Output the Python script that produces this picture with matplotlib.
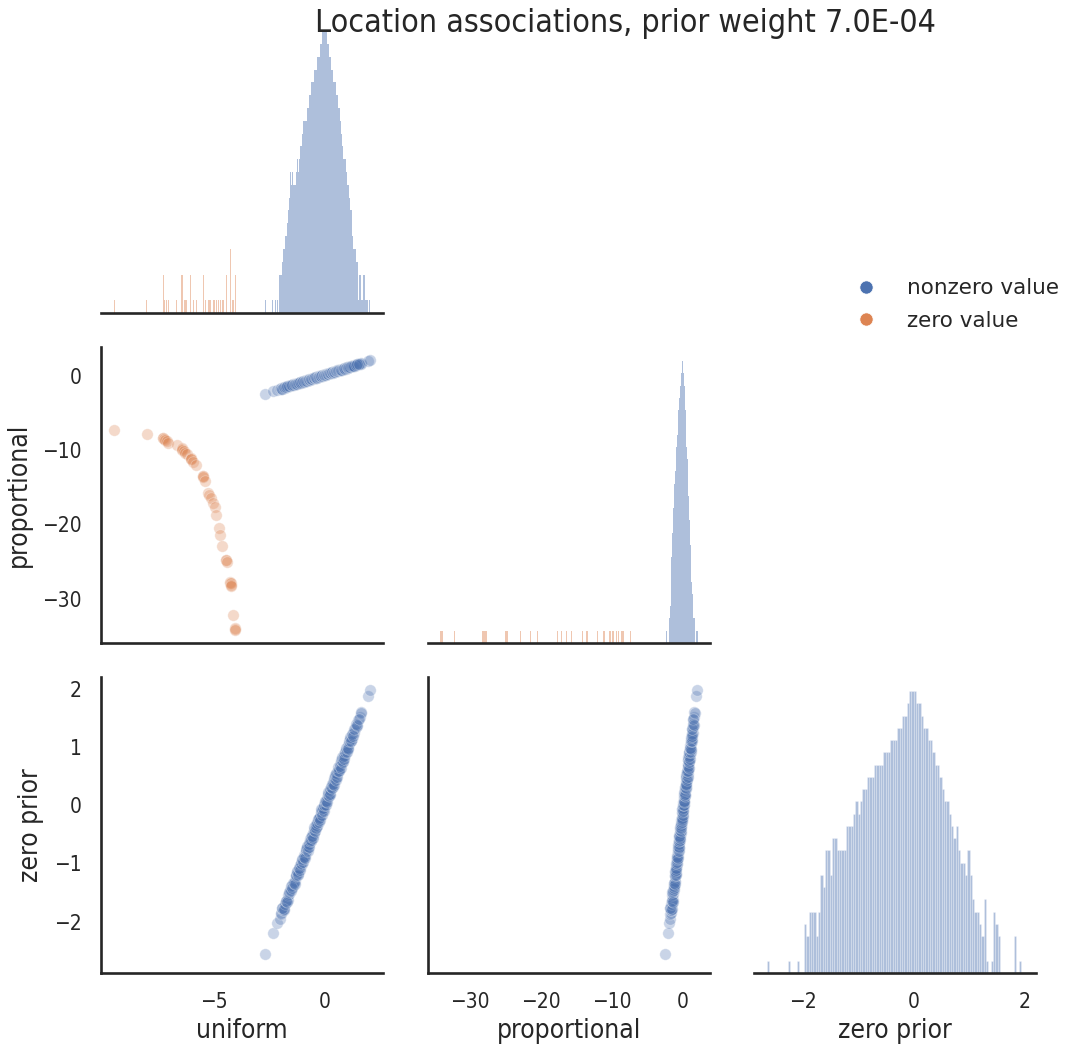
import numpy as np
import matplotlib
matplotlib.use("Agg")
import matplotlib.pyplot as plt
from matplotlib.lines import Line2D

TITLE = "Location associations, prior weight 7.0E-04"
VARIABLES = ["uniform", "proportional", "zero prior"]
HUE_LABELS = ["nonzero value", "zero value"]

# Items whose value is zero (no zero-prior estimate for these)
zero_uniform = [-9.50, -8.01, -7.28, -7.27, -7.26, -7.21, -7.12, -7.04, -6.66,
                -6.43, -6.42, -6.41, -6.34, -6.28, -6.21, -6.03, -6.02, -6.01,
                -5.93, -5.79, -5.48, -5.47, -5.46, -5.40, -5.24, -5.20, -5.12,
                -5.04, -4.96, -4.88, -4.78, -4.70, -4.60, -4.43, -4.42, -4.41,
                -4.24, -4.24, -4.23, -4.23, -4.22, -4.13, -4.04, -4.03, -4.02]
zero_proportional = [-7.35, -7.85, -8.35, -8.45, -8.55, -8.65, -8.85, -9.05, -9.35,
                     -9.75, -9.85, -9.95, -10.15, -10.35, -10.55, -11.05, -11.15, -11.25,
                     -11.55, -12.05, -13.45, -13.55, -13.65, -14.15, -15.75, -16.05, -16.45,
                     -17.15, -17.65, -18.75, -20.55, -21.45, -22.95, -24.75, -24.85, -25.05,
                     -27.75, -27.85, -27.95, -28.15, -28.25, -32.25, -33.95, -34.05, -34.15]

# Items with a nonzero value: estimates under the three priors
nonzero_uniform = [
    -2.68, -2.33, -2.15,
    -2.01, -1.97, -1.94, -1.90, -1.86, -1.84, -1.80, -1.77, -1.73, -1.70,
    -1.66, -1.63, -1.60, -1.56, -1.53, -1.49, -1.47, -1.43, -1.40, -1.37,
    -1.33, -1.30, -1.27, -1.24, -1.21, -1.18, -1.15, -1.12, -1.09, -1.06,
    -1.03, -1.00, -0.97, -0.94, -0.91, -0.88, -0.85, -0.82, -0.79, -0.77,
    -0.74, -0.71, -0.68, -0.65, -0.62, -0.60, -0.57, -0.54, -0.51, -0.49,
    -0.46, -0.43, -0.40, -0.38, -0.35, -0.32, -0.29, -0.27, -0.24, -0.21,
    -0.18, -0.16, -0.13, -0.10, -0.07, -0.05, -0.02, 0.01, 0.04, 0.06,
    0.09, 0.12, 0.15, 0.17, 0.20, 0.23, 0.26, 0.29, 0.31, 0.34,
    0.37, 0.40, 0.43, 0.46, 0.49, 0.52, 0.55, 0.58, 0.61, 0.64,
    0.67, 0.71, 0.74, 0.77, 0.81, 0.84, 0.88, 0.91, 0.95, 0.98,
    1.02, 1.06, 1.10, 1.14, 1.18, 1.22, 1.27, 1.31, 1.36, 1.41,
    1.46, 1.52, 1.58, 1.63, 1.67,
    1.96, 2.06,
    -1.92, -1.82, -1.75, -1.68, -1.58, -1.51, -1.45, -1.39, -1.35, -1.29,
    -1.25, -1.20, -1.16, -1.11, -1.07, -1.02, -0.98, -0.93, -0.89, -0.84,
    -0.80, -0.76, -0.72, -0.69, -0.66, -0.63, -0.59, -0.56, -0.52, -0.48,
    -0.45, -0.42, -0.39, -0.36, -0.33, -0.30, -0.26, -0.23, -0.20, -0.17,
    -0.14, -0.11, -0.08, -0.04, -0.01, 0.02, 0.05, 0.08, 0.11, 0.14,
    0.18, 0.21, 0.24, 0.27, 0.30, 0.33, 0.36, 0.39, 0.42, 0.45,
    0.48, 0.51, 0.54, 0.57, 0.60, 0.63, 0.66, 0.70, 0.73, 0.76,
    0.80, 0.83, 0.86, 0.90, 0.93, 0.97, 1.00, 1.04, 1.08, 1.12,
    1.16, 1.20, 1.25, 1.30, 1.35, 1.40, 1.48, 1.55]
nonzero_proportional = [
    -2.45, -2.09, -1.92,
    -1.75, -1.78, -1.71, -1.74, -1.63, -1.63, -1.61, -1.51, -1.57, -1.47,
    -1.42, -1.46, -1.39, -1.42, -1.32, -1.30, -1.30, -1.19, -1.26, -1.16,
    -1.11, -1.15, -1.08, -1.12, -1.02, -1.01, -1.00, -0.90, -0.97, -0.87,
    -0.83, -0.87, -0.80, -0.83, -0.74, -0.73, -0.72, -0.62, -0.68, -0.59,
    -0.56, -0.60, -0.53, -0.56, -0.46, -0.46, -0.46, -0.36, -0.42, -0.33,
    -0.29, -0.33, -0.27, -0.31, -0.21, -0.20, -0.19, -0.10, -0.17, -0.07,
    -0.03, -0.08, -0.01, -0.04, 0.05, 0.05, 0.06, 0.16, 0.10, 0.19,
    0.22, 0.18, 0.25, 0.21, 0.31, 0.32, 0.32, 0.42, 0.35, 0.45,
    0.49, 0.45, 0.51, 0.48, 0.58, 0.59, 0.60, 0.70, 0.63, 0.73,
    0.77, 0.74, 0.81, 0.77, 0.88, 0.89, 0.91, 1.01, 0.95, 1.05,
    1.10, 1.07, 1.14, 1.12, 1.23, 1.25, 1.27, 1.38, 1.34, 1.46,
    1.51, 1.50, 1.60, 1.58, 1.69,
    1.94, 2.04,
    -1.77, -1.54, -1.56, -1.44, -1.46, -1.30, -1.20, -1.26, -1.14, -1.14,
    -1.14, -0.96, -1.00, -0.90, -0.98, -0.84, -0.76, -0.82, -0.71, -0.72,
    -0.71, -0.54, -0.59, -0.51, -0.59, -0.47, -0.39, -0.48, -0.36, -0.38,
    -0.38, -0.22, -0.28, -0.20, -0.28, -0.16, -0.08, -0.17, -0.06, -0.09,
    -0.09, 0.07, 0.01, 0.10, 0.02, 0.14, 0.21, 0.13, 0.23, 0.20,
    0.21, 0.37, 0.32, 0.39, 0.31, 0.43, 0.50, 0.42, 0.53, 0.49,
    0.49, 0.65, 0.60, 0.68, 0.59, 0.71, 0.78, 0.71, 0.82, 0.78,
    0.79, 0.95, 0.90, 0.99, 0.90, 1.03, 1.10, 1.03, 1.15, 1.12,
    1.13, 1.30, 1.27, 1.36, 1.30, 1.44, 1.55, 1.51]
nonzero_zero_prior = [
    -2.56, -2.19, -2.02,
    -1.95, -1.86, -1.85, -1.77, -1.80, -1.80, -1.69, -1.70, -1.64, -1.62,
    -1.62, -1.54, -1.53, -1.45, -1.48, -1.46, -1.37, -1.38, -1.33, -1.31,
    -1.30, -1.22, -1.21, -1.14, -1.18, -1.17, -1.07, -1.08, -1.03, -1.01,
    -1.01, -0.94, -0.93, -0.86, -0.89, -0.88, -0.78, -0.79, -0.74, -0.74,
    -0.74, -0.66, -0.65, -0.58, -0.61, -0.61, -0.51, -0.53, -0.48, -0.47,
    -0.47, -0.39, -0.38, -0.32, -0.35, -0.35, -0.25, -0.27, -0.22, -0.20,
    -0.20, -0.13, -0.12, -0.06, -0.09, -0.09, 0.01, 0.00, 0.05, 0.06,
    0.06, 0.13, 0.14, 0.20, 0.17, 0.18, 0.28, 0.27, 0.31, 0.32,
    0.32, 0.40, 0.41, 0.48, 0.45, 0.46, 0.56, 0.54, 0.59, 0.61,
    0.61, 0.70, 0.71, 0.78, 0.75, 0.76, 0.87, 0.86, 0.92, 0.94,
    0.94, 1.03, 1.05, 1.13, 1.11, 1.13, 1.24, 1.24, 1.31, 1.35,
    1.36, 1.47, 1.51, 1.60, 1.58,
    1.87, 1.97,
    -1.77, -1.79, -1.64, -1.66, -1.49, -1.39, -1.42, -1.33, -1.35, -1.19,
    -1.13, -1.20, -1.08, -1.12, -1.00, -0.92, -0.98, -0.89, -0.91, -0.76,
    -0.70, -0.78, -0.66, -0.72, -0.61, -0.55, -0.60, -0.53, -0.56, -0.42,
    -0.37, -0.45, -0.34, -0.40, -0.30, -0.24, -0.29, -0.22, -0.25, -0.12,
    -0.07, -0.16, -0.05, -0.10, 0.01, 0.07, 0.01, 0.08, 0.05, 0.17,
    0.23, 0.15, 0.26, 0.20, 0.31, 0.37, 0.30, 0.37, 0.34, 0.47,
    0.52, 0.44, 0.55, 0.48, 0.59, 0.65, 0.59, 0.67, 0.64, 0.77,
    0.82, 0.74, 0.85, 0.80, 0.91, 0.98, 0.92, 0.99, 0.97, 1.11,
    1.17, 1.10, 1.22, 1.18, 1.31, 1.39, 1.37, 1.48]

# Histogram counts of the nonzero items on the diagonal panels
uniform_bin_start, uniform_bin_width = -2.70, 0.05
uniform_counts = [
    1, 0, 0, 0, 0, 0, 0, 1, 0, 1, 0, 1, 0,
    3, 3, 3, 4, 5, 6, 6, 7, 8, 9, 11, 10, 11, 10, 10, 11, 12, 11, 12, 13,
    13, 14, 15, 15, 15, 16, 16, 17, 17, 18, 18, 18, 19, 19, 20, 20, 20, 21,
    21, 22, 22, 22, 22, 21, 21, 20, 20, 19, 19, 18, 18, 17, 17, 16, 16, 15,
    14, 13, 12, 12, 11, 10, 10, 9, 8, 8, 6, 5, 5, 4, 4, 1, 3, 3, 1, 1,
    3, 3, 1, 1, 0, 1, 0, 0]
proportional_bin_start, proportional_bin_width = -2.70, 0.10
proportional_counts = [
    1, 0, 0, 0, 1, 0, 0, 1, 2, 3, 5, 7, 9, 11, 12, 13, 14, 15, 16, 17,
    18, 19, 20, 21, 21, 22, 23, 23, 22, 21, 19, 18, 16, 15, 13, 12, 10, 8,
    7, 5, 4, 3, 2, 2, 1, 0, 1, 1]
zero_prior_bin_start, zero_prior_bin_width = -2.65, 0.042
zero_prior_counts = [
    1, 0, 0, 0, 0, 0, 0, 0, 0, 1, 0, 0, 0, 1, 0, 0,
    4, 3, 5, 5, 5, 3, 5, 8, 7, 10, 10, 8, 11, 11, 10, 10, 10, 10, 12, 12,
    12, 13, 14, 13, 14, 15, 15, 16, 16, 16, 17, 17, 17, 17, 18, 18, 18, 19,
    19, 19, 20, 20, 21, 21, 22, 23, 23, 23, 22, 22, 21, 20, 20, 19, 19, 18,
    17, 17, 16, 15, 14, 14, 13, 12, 11, 12, 10, 9, 9, 8, 10, 8, 6, 5,
    5, 4, 3, 6, 1, 0, 1, 5, 4, 3, 0, 0, 0, 0, 0, 0, 3, 0, 1]

# ---------------------------------------------------------------- styling
BLUE = "#4c72b0"
ORANGE = "#dd8452"
INK = "#262626"
plt.rcParams.update({
    "font.family": "DejaVu Sans",
    "font.stretch": "condensed",
    "text.color": INK,
    "axes.labelcolor": INK,
    "xtick.color": INK,
    "ytick.color": INK,
})
TICK_FS = 15
LABEL_FS = 19

W, H = 1071, 1047
fig = plt.figure(figsize=(W / 100, H / 100), dpi=100)

col_left = [101, 428, 754]
row_top = [17, 347, 677]
PW, PH = 282, 296

limits = {
    "uniform": (-10.08, 2.64),
    "proportional": (-35.96, 3.85),
    "zero prior": (-2.88, 2.20),
}
yticks = {
    "proportional": [-30, -20, -10, 0],
    "zero prior": [-2, -1, 0, 1, 2],
}
xticks = {
    "uniform": [-5, 0],
    "proportional": [-30, -20, -10, 0],
    "zero prior": [-2, 0, 2],
}
values_nonzero = {
    "uniform": nonzero_uniform,
    "proportional": nonzero_proportional,
    "zero prior": nonzero_zero_prior,
}
values_zero = {
    "uniform": zero_uniform,
    "proportional": zero_proportional,
}


def make_axes(row, col):
    l = col_left[col]
    t = row_top[row]
    ax = fig.add_axes([l / W, 1 - (t + PH) / H, PW / W, PH / H])
    for side in ("top", "right"):
        ax.spines[side].set_visible(False)
    for side in ("left", "bottom"):
        ax.spines[side].set_linewidth(1.9)
        ax.spines[side].set_color(INK)
    ax.tick_params(length=0, pad=14, labelsize=TICK_FS)
    return ax


def draw_diag(ax, counts, start, width, zero_vals=None, offset=0, edges=False):
    counts = np.asarray(counts)
    lefts = start + width * np.arange(len(counts))
    style = dict(edgecolor="white", linewidth=0.4) if edges else dict(linewidth=0)
    ax.bar(lefts, counts, width=width, align="edge", color=BLUE, alpha=0.45, **style)
    if zero_vals is not None:
        grid = start + width * np.arange(-offset, len(counts) + 1)
        ax.hist(zero_vals, bins=grid, color=ORANGE, alpha=0.45, linewidth=0)
    ax.spines["left"].set_visible(False)
    ax.set_yticks([])
    ax.set_ylim(0, counts.max() * 1.05)


for r, yvar in enumerate(VARIABLES):
    for c, xvar in enumerate(VARIABLES[: r + 1]):
        ax = make_axes(r, c)
        if r == c:
            if xvar == "uniform":
                draw_diag(ax, uniform_counts, uniform_bin_start, uniform_bin_width,
                          zero_uniform, 138)
            elif xvar == "proportional":
                draw_diag(ax, proportional_counts, proportional_bin_start,
                          proportional_bin_width, zero_proportional, 333)
            else:
                draw_diag(ax, zero_prior_counts, zero_prior_bin_start,
                          zero_prior_bin_width, edges=True)
        else:
            ax.scatter(values_nonzero[xvar], values_nonzero[yvar], s=68, color=BLUE,
                       alpha=0.3, edgecolors="white", linewidths=0.6, zorder=3)
            if xvar in values_zero and yvar in values_zero:
                ax.scatter(values_zero[xvar], values_zero[yvar], s=68, color=ORANGE,
                           alpha=0.3, edgecolors="white", linewidths=0.6, zorder=2)
            ax.set_ylim(*limits[yvar])
            ax.set_yticks(yticks[yvar])
            if c == 0:
                ax.set_ylabel(yvar, fontsize=LABEL_FS, labelpad=7)
            else:
                ax.set_yticklabels([])
        ax.set_xlim(*limits[xvar])
        ax.set_xticks(xticks[xvar])
        if r == len(VARIABLES) - 1:
            ax.set_xlabel(xvar, fontsize=LABEL_FS, labelpad=4)
        else:
            ax.set_xticklabels([])

handles = [Line2D([], [], marker="o", linestyle="", markersize=9.5, color=BLUE,
                  markeredgecolor="white", markeredgewidth=0.5),
           Line2D([], [], marker="o", linestyle="", markersize=9.5, color=ORANGE,
                  markeredgecolor="white", markeredgewidth=0.5)]
fig.legend(handles, HUE_LABELS, loc="center left", bbox_to_anchor=(844.5 / W, 1 - 304.5 / H),
           frameon=False, prop={"family": "DejaVu Sans", "stretch": "normal", "size": 15.5},
           handletextpad=0.9, labelspacing=0.6, borderpad=0, borderaxespad=0)

fig.text(625 / W, 1 - 32 / H, TITLE, ha="center", va="baseline", fontsize=23)

fig.savefig("out.png", dpi=100)
